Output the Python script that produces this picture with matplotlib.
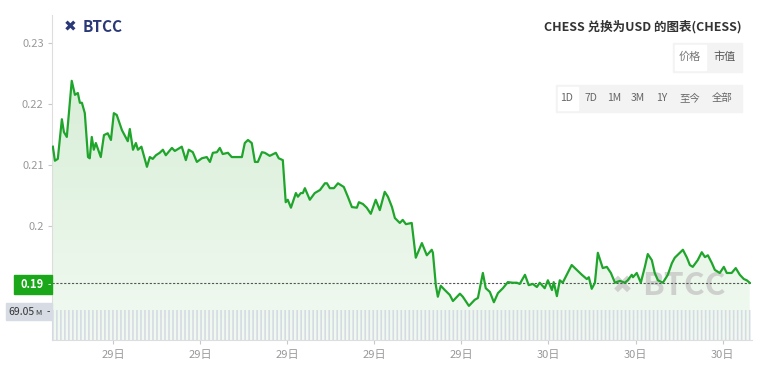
import numpy as np
import matplotlib
matplotlib.use('Agg')
import matplotlib.pyplot as plt
from matplotlib.patches import Rectangle, Polygon
from matplotlib.colors import LinearSegmentedColormap

plt.rcParams['font.family'] = ['Noto Sans CJK SC', 'DejaVu Sans']

# time in hours counted from 29日 00:00
hours = [
    6.93, 7.00, 7.10, 7.24, 7.31, 7.41, 7.58, 7.69, 7.79, 7.86,
    7.93, 8.03, 8.14, 8.20, 8.27, 8.34, 8.41, 8.58, 8.69, 8.82,
    8.93, 9.03, 9.13, 9.31, 9.51, 9.58, 9.69, 9.79, 9.86, 9.98,
    10.17, 10.27, 10.37, 10.48, 10.61, 10.72, 10.82, 11.03, 11.13, 11.37,
    11.51, 11.61, 11.75, 11.89, 12.06, 12.23, 12.34, 12.44, 12.58, 12.68,
    12.78, 12.96, 13.09, 13.27, 13.44, 13.54, 13.65, 13.78, 13.89, 13.99,
    14.13, 14.23, 14.40, 14.61, 14.71, 14.85, 14.95, 15.02, 15.13, 15.30,
    15.37, 15.47, 15.54, 15.61, 15.78, 15.95, 16.13, 16.30, 16.37, 16.47,
    16.61, 16.75, 16.88, 16.95, 17.09, 17.23, 17.40, 17.47, 17.61, 17.74,
    17.88, 18.05, 18.19, 18.36, 18.47, 18.61, 18.71, 18.88, 18.98, 19.09,
    19.29, 19.43, 19.64, 19.81, 19.98, 20.02, 20.12, 20.19, 20.29, 20.43,
    20.60, 20.71, 20.95, 21.05, 21.26, 21.46, 21.57, 21.74, 21.84, 21.98,
    22.12, 22.26, 22.43, 22.60, 22.77, 22.91, 23.01, 23.19, 23.32, 23.46,
    23.60, 23.70, 23.87, 23.98, 24.12, 24.18, 24.29, 24.39, 24.49, 24.80,
    24.91, 25.15, 25.32, 25.39, 25.49, 25.60, 25.70, 25.87, 26.01, 26.15,
    26.29, 26.46, 26.63, 26.73, 26.87, 26.91, 27.04, 27.18, 27.32, 27.42,
    27.56, 27.66, 27.77, 27.94, 28.11, 28.25, 28.35, 28.52, 28.63, 28.77,
    28.87, 28.97, 29.14, 29.28, 29.39, 29.49, 29.63, 29.73, 29.90, 30.04,
    30.14, 30.31, 30.45, 30.59, 30.73, 30.83, 30.93,
]

# CHESS price in USD
price = [
    0.2130, 0.2107, 0.2110, 0.2175, 0.2154, 0.2146, 0.2238, 0.2215, 0.2218, 0.2202,
    0.2202, 0.2185, 0.2113, 0.2111, 0.2146, 0.2125, 0.2136, 0.2113, 0.2149, 0.2152,
    0.2141, 0.2185, 0.2182, 0.2157, 0.2139, 0.2159, 0.2125, 0.2136, 0.2125, 0.2130,
    0.2097, 0.2113, 0.2110, 0.2116, 0.2120, 0.2125, 0.2116, 0.2128, 0.2123, 0.2130,
    0.2108, 0.2125, 0.2121, 0.2105, 0.2111, 0.2113, 0.2105, 0.2120, 0.2121, 0.2128,
    0.2118, 0.2120, 0.2113, 0.2113, 0.2113, 0.2136, 0.2141, 0.2136, 0.2105, 0.2105,
    0.2121, 0.2120, 0.2115, 0.2120, 0.2111, 0.2108, 0.2039, 0.2043, 0.2030, 0.2054,
    0.2048, 0.2054, 0.2054, 0.2062, 0.2043, 0.2054, 0.2059, 0.2070, 0.2070, 0.2062,
    0.2062, 0.2070, 0.2066, 0.2064, 0.2048, 0.2031, 0.2030, 0.2039, 0.2036, 0.2030,
    0.2020, 0.2043, 0.2026, 0.2056, 0.2048, 0.2031, 0.2013, 0.2005, 0.2010, 0.2003,
    0.2005, 0.1948, 0.1972, 0.1952, 0.1961, 0.1956, 0.1903, 0.1884, 0.1902, 0.1895,
    0.1887, 0.1877, 0.1889, 0.1884, 0.1869, 0.1879, 0.1882, 0.1923, 0.1898, 0.1892,
    0.1875, 0.1890, 0.1898, 0.1908, 0.1907, 0.1907, 0.1905, 0.1920, 0.1903, 0.1905,
    0.1900, 0.1907, 0.1898, 0.1911, 0.1895, 0.1908, 0.1885, 0.1911, 0.1907, 0.1936,
    0.1931, 0.1920, 0.1913, 0.1916, 0.1897, 0.1907, 0.1956, 0.1931, 0.1933, 0.1923,
    0.1907, 0.1910, 0.1907, 0.1911, 0.1920, 0.1916, 0.1923, 0.1907, 0.1933, 0.1954,
    0.1944, 0.1923, 0.1911, 0.1907, 0.1920, 0.1939, 0.1948, 0.1956, 0.1961, 0.1948,
    0.1936, 0.1933, 0.1944, 0.1957, 0.1949, 0.1952, 0.1939, 0.1928, 0.1923, 0.1933,
    0.1923, 0.1923, 0.1931, 0.1920, 0.1913, 0.1911, 0.1907,
]

# bottom bars (millions), they all reach the 69.05M mark
cap_m = [
    69.05, 69.05, 69.05, 69.05, 69.05, 69.05, 69.05, 69.05, 69.05, 69.05, 69.05, 69.05,
    69.05, 69.05, 69.05, 69.05, 69.05, 69.05, 69.05, 69.05, 69.05, 69.05, 69.05, 69.05,
    69.05, 69.05, 69.05, 69.05, 69.05, 69.05, 69.05, 69.05, 69.05, 69.05, 69.05, 69.05,
    69.05, 69.05, 69.05, 69.05, 69.05, 69.05, 69.05, 69.05, 69.05, 69.05, 69.05, 69.05,
    69.05, 69.05, 69.05, 69.05, 69.05, 69.05, 69.05, 69.05, 69.05, 69.05, 69.05, 69.05,
    69.05, 69.05, 69.05, 69.05, 69.05, 69.05, 69.05, 69.05, 69.05, 69.05, 69.05, 69.05,
    69.05, 69.05, 69.05, 69.05, 69.05, 69.05, 69.05, 69.05, 69.05, 69.05, 69.05, 69.05,
    69.05, 69.05, 69.05, 69.05, 69.05, 69.05, 69.05, 69.05, 69.05, 69.05, 69.05, 69.05,
    69.05, 69.05, 69.05, 69.05, 69.05, 69.05, 69.05, 69.05, 69.05, 69.05, 69.05, 69.05,
    69.05, 69.05, 69.05, 69.05, 69.05, 69.05, 69.05, 69.05, 69.05, 69.05, 69.05, 69.05,
    69.05, 69.05, 69.05, 69.05, 69.05, 69.05, 69.05, 69.05, 69.05, 69.05, 69.05, 69.05,
    69.05, 69.05, 69.05, 69.05, 69.05, 69.05, 69.05, 69.05, 69.05, 69.05, 69.05, 69.05,
    69.05, 69.05, 69.05, 69.05, 69.05, 69.05, 69.05, 69.05, 69.05, 69.05, 69.05, 69.05,
    69.05, 69.05, 69.05, 69.05, 69.05, 69.05, 69.05, 69.05, 69.05, 69.05, 69.05, 69.05,
    69.05, 69.05, 69.05, 69.05, 69.05, 69.05, 69.05,
]

tick_hours = [9, 12, 15, 18, 21, 24, 27, 30]
tick_labels = ['29日', '29日', '29日', '29日', '29日', '30日', '30日', '30日']
ytick_vals = [0.2, 0.21, 0.22, 0.23]
ytick_labels = ['0.2', '0.21', '0.22', '0.23']
range_buttons = ['1D', '7D', '1M', '3M', '1Y', '至今', '全部']
range_x = [567, 591, 614, 638, 662, 690, 722]

W, H = 764, 377
fig = plt.figure(figsize=(W / 100, H / 100), dpi=100)
fig.patch.set_facecolor('white')

def fx(px):
    return px / W

def fy(py):
    return 1 - py / H

ax = fig.add_axes([fx(52), fy(340), fx(700), 325 / H])
ymin, ymax = 0.18131, 0.23459
xmin, xmax = 6.90, 31.01

# gradient fill under the price line
cmap = LinearSegmentedColormap.from_list('g', ['#d8eed8', '#f2faf2'])
verts = np.column_stack([np.r_[hours, hours[-1], hours[0]],
                         np.r_[price, ymin, ymin]])
poly = Polygon(verts, closed=True, facecolor='none', edgecolor='none')
ax.add_patch(poly)
grad = np.linspace(0, 1, 256).reshape(-1, 1)
im = ax.imshow(grad, cmap=cmap, aspect='auto', origin='upper',
               extent=[hours[0], hours[-1], ymin, max(price)], zorder=1)
im.set_clip_path(poly)

ax.plot(hours, price, color='#20a52c', lw=1.6, zorder=3, solid_joinstyle='round')
ax.axhline(price[-1], color='#555555', lw=0.8, ls=(0, (2, 1.5)), zorder=2.5)

ax.set_xlim(xmin, xmax)
ax.set_ylim(ymin, ymax)
ax.set_xticks(tick_hours)
ax.set_xticklabels(tick_labels)
ax.set_yticks(ytick_vals)
ax.set_yticklabels(ytick_labels)
ax.tick_params(axis='both', colors='#c8c8c8', labelcolor='#999999', labelsize=8,
               length=3, width=0.8)
ax.tick_params(axis='x', pad=4)
ax.tick_params(axis='y', pad=3)
for s in ['top', 'right']:
    ax.spines[s].set_visible(False)
ax.spines['left'].set_color('#dddddd')
ax.spines['bottom'].set_color('#dddddd')

# watermark
ax.text(fx(612), fy(286), '✖', transform=fig.transFigure, fontsize=18,
        color='#c4c4c4', alpha=0.75, va='center', ha='left', zorder=2,
        family=['DejaVu Sans'])
ax.text(fx(642), fy(286), 'BTCC', transform=fig.transFigure, fontsize=23,
        fontweight='bold', color='#c4c4c4', alpha=0.75, va='center', ha='left',
        zorder=2)

# bars at the bottom
axv = ax.twinx()
axv.set_ylim(0, 69.05 * 325 / 30)
bar_x = np.linspace(hours[0], hours[-1], len(cap_m))
axv.bar(bar_x, cap_m, width=(bar_x[1] - bar_x[0]) * 0.4, color='#d5dae3',
        linewidth=0, snap=False)
axv.set_xlim(xmin, xmax)
axv.axis('off')

# price label on the axis
fig.add_artist(Rectangle((fx(14), fy(294)), fx(38), 19 / H,
                         transform=fig.transFigure, color='#1aa81a'))
fig.text(fx(32), fy(284.5), '0.19', color='white', fontsize=8,
         fontweight='bold', ha='center', va='center')
fig.text(fx(48), fy(285), '-', color='white', fontsize=7, ha='left', va='center')

fig.add_artist(Rectangle((fx(6), fy(320)), fx(46), 17 / H,
                         transform=fig.transFigure, color='#d6dbe4'))
fig.text(fx(8), fy(312), '69.05', color='#333333', fontsize=7.5,
         ha='left', va='center')
fig.text(fx(35), fy(313), 'M', color='#333333', fontsize=5.5,
         ha='left', va='center')
fig.text(fx(47), fy(312), '-', color='#333333', fontsize=7, ha='left', va='center')

# logo
fig.text(fx(64), fy(27), '✖', color='#2a3878', fontsize=11, ha='left',
         va='center', family=['DejaVu Sans'])
fig.text(fx(83), fy(27), 'BTCC', color='#2a3878', fontsize=11,
         fontweight='bold', ha='left', va='center')

# title and buttons
fig.text(fx(742), fy(27), 'CHESS 兑换为USD 的图表(CHESS)', color='#333333',
         fontsize=9, fontweight='bold', ha='right', va='center')

fig.add_artist(Rectangle((fx(673), fy(72)), fx(69), 29 / H,
                         transform=fig.transFigure, color='#f3f3f3'))
fig.add_artist(Rectangle((fx(675), fy(70)), fx(31), 25 / H,
                         transform=fig.transFigure, color='white'))
fig.text(fx(690), fy(57), '价格', color='#777777', fontsize=8, ha='center', va='center')
fig.text(fx(724), fy(57), '市值', color='#555555', fontsize=8, ha='center', va='center')

fig.add_artist(Rectangle((fx(556), fy(112)), fx(186), 27 / H,
                         transform=fig.transFigure, color='#f3f3f3'))
fig.add_artist(Rectangle((fx(558), fy(110)), fx(20), 23 / H,
                         transform=fig.transFigure, color='white'))
for lab, xp in zip(range_buttons, range_x):
    fig.text(fx(xp), fy(98), lab, color='#666666', fontsize=7.5,
             ha='center', va='center')

fig.savefig('out.png', dpi=100)
